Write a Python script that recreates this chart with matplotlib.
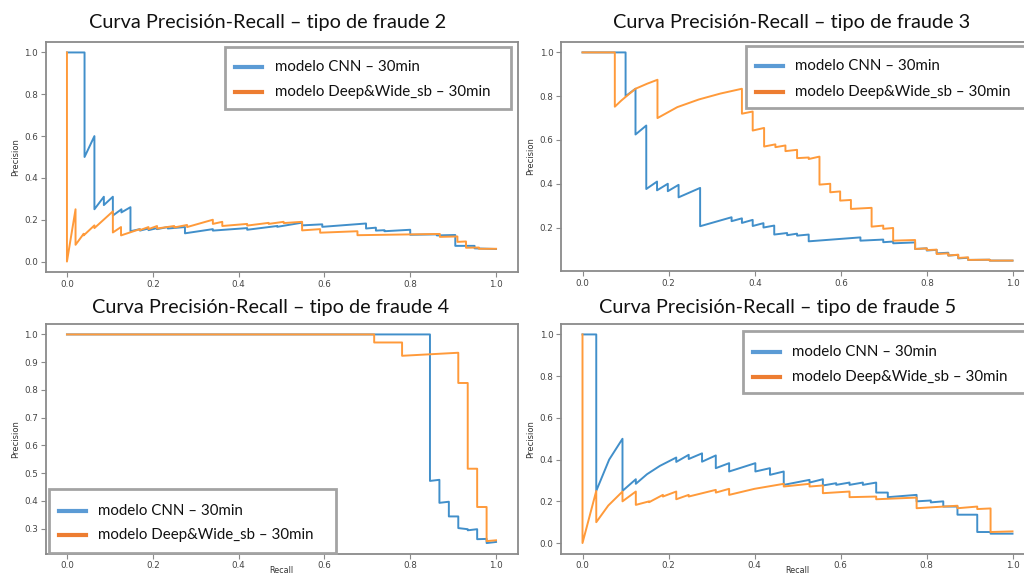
import matplotlib
matplotlib.use("Agg")
import matplotlib.pyplot as plt
from matplotlib.lines import Line2D
from matplotlib.patches import Rectangle

# canvas size in pixels
W, H = 1024, 577

series_names = ["modelo CNN – 30min", "modelo Deep&Wide_sb – 30min"]
fraud_types = [2, 3, 4, 5]

# fraude 2
recall_cnn_2 = [0, 0.041, 0.041, 0.064, 0.064, 0.086, 0.086, 0.107, 0.107, 0.127, 0.127,
                0.148, 0.148, 0.17, 0.17, 0.19, 0.19, 0.21, 0.21, 0.235, 0.235, 0.275,
                0.275, 0.34, 0.34, 0.42, 0.42, 0.49, 0.49, 0.548, 0.548, 0.595, 0.595,
                0.697, 0.697, 0.72, 0.72, 0.74, 0.74, 0.80, 0.80, 0.862, 0.862, 0.905,
                0.905, 0.95, 0.95, 1.0]
prec_cnn_2 = [1.0, 1.0, 0.50, 0.60, 0.25, 0.31, 0.27, 0.31, 0.22, 0.25, 0.235,
              0.26, 0.145, 0.155, 0.148, 0.158, 0.15, 0.16, 0.155, 0.165, 0.158, 0.165,
              0.135, 0.155, 0.148, 0.16, 0.152, 0.17, 0.166, 0.186, 0.173, 0.178, 0.166,
              0.182, 0.158, 0.162, 0.148, 0.15, 0.145, 0.152, 0.128, 0.13, 0.125, 0.127,
              0.075, 0.075, 0.063, 0.06]
recall_dw_2 = [0, 0, 0.02, 0.02, 0.039, 0.039, 0.064, 0.064, 0.107, 0.107, 0.126, 0.126,
               0.148, 0.17, 0.17, 0.19, 0.19, 0.21, 0.21, 0.25, 0.25, 0.28, 0.28, 0.34,
               0.34, 0.362, 0.362, 0.42, 0.42, 0.47, 0.47, 0.505, 0.505, 0.548, 0.548,
               0.59, 0.59, 0.677, 0.677, 0.869, 0.869, 0.91, 0.91, 0.93, 0.93, 0.96,
               0.96, 1.0]
prec_dw_2 = [1.0, 0.0, 0.25, 0.08, 0.133, 0.125, 0.173, 0.16, 0.24, 0.139, 0.165, 0.125,
             0.14, 0.155, 0.15, 0.165, 0.155, 0.17, 0.158, 0.17, 0.163, 0.175, 0.165, 0.2,
             0.18, 0.19, 0.17, 0.18, 0.172, 0.185, 0.18, 0.19, 0.184, 0.19, 0.149,
             0.155, 0.138, 0.145, 0.126, 0.132, 0.118, 0.12, 0.094, 0.096, 0.066, 0.067,
             0.061, 0.061]

# fraude 3
recall_cnn_3 = [0, 0.10, 0.10, 0.123, 0.123, 0.148, 0.148, 0.173, 0.173, 0.198, 0.198,
                0.223, 0.223, 0.273, 0.273, 0.346, 0.346, 0.37, 0.37, 0.395, 0.395, 0.42,
                0.42, 0.445, 0.445, 0.475, 0.475, 0.498, 0.498, 0.525, 0.525, 0.645,
                0.645, 0.698, 0.698, 0.721, 0.721, 0.772, 0.772, 0.799, 0.799, 0.822,
                0.822, 0.849, 0.849, 0.872, 0.872, 0.895, 0.895, 0.945, 0.945, 0.998]
prec_cnn_3 = [1.0, 1.0, 0.80, 0.834, 0.625, 0.666, 0.376, 0.41, 0.37, 0.40, 0.366,
              0.395, 0.338, 0.381, 0.206, 0.247, 0.229, 0.242, 0.221, 0.235, 0.207, 0.22,
              0.20, 0.209, 0.168, 0.175, 0.165, 0.172, 0.163, 0.168, 0.137, 0.155,
              0.14, 0.145, 0.133, 0.136, 0.128, 0.132, 0.102, 0.105, 0.095, 0.098,
              0.082, 0.085, 0.072, 0.075, 0.059, 0.062, 0.052, 0.053, 0.049, 0.049]
recall_dw_3 = [0, 0.075, 0.075, 0.09, 0.105, 0.123, 0.15, 0.174, 0.174, 0.22, 0.27, 0.32,
               0.37, 0.37, 0.395, 0.395, 0.4215, 0.4215, 0.4477, 0.4477, 0.471, 0.471,
               0.498, 0.498, 0.525, 0.525, 0.55, 0.55, 0.575, 0.575, 0.598, 0.598, 0.623,
               0.623, 0.671, 0.671, 0.698, 0.698, 0.721, 0.721, 0.772, 0.772, 0.799,
               0.799, 0.822, 0.822, 0.849, 0.849, 0.872, 0.872, 0.895, 0.895, 0.945,
               0.945, 0.998]
prec_dw_3 = [1.0, 1.0, 0.752, 0.78, 0.805, 0.834, 0.857, 0.875, 0.70, 0.75, 0.785, 0.812,
             0.834, 0.72, 0.73, 0.643, 0.655, 0.57, 0.58, 0.567, 0.575, 0.549,
             0.555, 0.517, 0.52, 0.513, 0.524, 0.396, 0.40, 0.361, 0.365, 0.323, 0.326,
             0.285, 0.29, 0.204, 0.209, 0.194, 0.198, 0.14, 0.143, 0.102, 0.105,
             0.097, 0.099, 0.079, 0.082, 0.072, 0.076, 0.061, 0.064, 0.052, 0.053,
             0.049, 0.049]

# fraude 4
recall_cnn_4 = [0, 0.846, 0.846, 0.868, 0.868, 0.89, 0.89, 0.912, 0.912, 0.934, 0.934,
                0.956, 0.956, 0.978, 0.978, 1.0]
prec_cnn_4 = [1.0, 1.0, 0.472, 0.476, 0.393, 0.397, 0.344, 0.344, 0.302, 0.298, 0.294,
              0.298, 0.262, 0.263, 0.248, 0.252]
recall_dw_4 = [0, 0.716, 0.716, 0.781, 0.781, 0.912, 0.912, 0.934, 0.934, 0.956, 0.956,
               0.978, 0.978, 1.0]
prec_dw_4 = [1.0, 1.0, 0.971, 0.971, 0.923, 0.934, 0.825, 0.825, 0.516, 0.516, 0.378,
             0.378, 0.255, 0.258]

# fraude 5
recall_cnn_5 = [0, 0.032, 0.032, 0.062, 0.093, 0.093, 0.124, 0.124, 0.15, 0.18, 0.218,
                0.218, 0.247, 0.247, 0.278, 0.278, 0.31, 0.31, 0.341, 0.341, 0.402,
                0.402, 0.436, 0.436, 0.468, 0.468, 0.528, 0.528, 0.559, 0.559, 0.59,
                0.59, 0.621, 0.621, 0.652, 0.652, 0.683, 0.683, 0.71, 0.71, 0.777,
                0.777, 0.81, 0.81, 0.839, 0.839, 0.872, 0.872, 0.918, 0.918, 0.949,
                0.949, 1.0]
prec_cnn_5 = [1.0, 1.0, 0.25, 0.40, 0.50, 0.25, 0.306, 0.284, 0.33, 0.37, 0.41,
              0.389, 0.423, 0.403, 0.43, 0.39, 0.42, 0.359, 0.383, 0.343, 0.383,
              0.343, 0.359, 0.327, 0.343, 0.279, 0.303, 0.29, 0.306, 0.276, 0.287,
              0.279, 0.29, 0.279, 0.29, 0.279, 0.29, 0.242, 0.242, 0.22, 0.231,
              0.20, 0.204, 0.195, 0.20, 0.175, 0.175, 0.136, 0.136, 0.053, 0.053,
              0.045, 0.045]
recall_dw_5 = [0, 0, 0.032, 0.032, 0.06, 0.093, 0.093, 0.124, 0.124, 0.155, 0.155, 0.187,
               0.187, 0.218, 0.218, 0.247, 0.247, 0.31, 0.31, 0.341, 0.341, 0.40, 0.468,
               0.468, 0.528, 0.528, 0.559, 0.559, 0.621, 0.621, 0.683, 0.683, 0.777,
               0.777, 0.872, 0.872, 0.918, 0.918, 0.949, 0.949, 1.0]
prec_dw_5 = [1.0, 0.0, 0.25, 0.10, 0.18, 0.247, 0.20, 0.247, 0.183, 0.20, 0.196, 0.231,
             0.223, 0.247, 0.21, 0.231, 0.223, 0.255, 0.242, 0.26, 0.231, 0.26, 0.284,
             0.271, 0.284, 0.271, 0.276, 0.239, 0.247, 0.22, 0.223, 0.21, 0.218,
             0.167, 0.179, 0.167, 0.175, 0.163, 0.166, 0.053, 0.056]

curves = {
    2: ((recall_cnn_2, prec_cnn_2), (recall_dw_2, prec_dw_2)),
    3: ((recall_cnn_3, prec_cnn_3), (recall_dw_3, prec_dw_3)),
    4: ((recall_cnn_4, prec_cnn_4), (recall_dw_4, prec_dw_4)),
    5: ((recall_cnn_5, prec_cnn_5), (recall_dw_5, prec_dw_5)),
}

line_colors = ["#418fca", "#ff9a3a"]
key_colors = ["#5b9bd5", "#ed7d31"]
spine_color = "#8a8a8a"
title_font = "Lato"

# axes boxes in pixels: left, top, right, bottom
axes_px = {
    2: (45.5, 42, 517.5, 272),
    3: (561, 42, 1034, 271),
    4: (45.5, 324, 517.5, 553.5),
    5: (561, 324, 1034, 553.5),
}
# title anchor (center x, baseline y)
title_px = {2: (268, 28), 3: (792, 28), 4: (271, 313), 5: (778, 313)}
# key box (left, top, right, bottom), handle start x, text x, row ys
key_px = {
    2: ((225, 47, 510.5, 109), 235, 275, (67, 92)),
    3: ((746, 46, 1040, 108), 756, 795, (66, 92)),
    4: ((49, 489, 336, 553), 59, 98, (511, 535)),
    5: ((743, 331, 1040, 393), 753, 792, (352, 377)),
}

fig = plt.figure(figsize=(W / 100, H / 100), dpi=100)

for ft in fraud_types:
    l, t, r, b = axes_px[ft]
    ax = fig.add_axes([l / W, 1 - b / H, (r - l) / W, (b - t) / H])
    for (rec, prec), c in zip(curves[ft], line_colors):
        ax.plot(rec, prec, color=c, lw=1.4)
    ax.set_xticks([0, 0.2, 0.4, 0.6, 0.8, 1.0])
    ax.set_ylabel("Precision", fontsize=6, color="#333333", labelpad=3)
    if ft in (4, 5):
        ax.set_xlabel("Recall", fontsize=5.8, color="#333333", labelpad=-2.8)
    ax.tick_params(labelsize=6.3, colors="#444444", length=3.5, width=0.8, pad=2,
                   color=spine_color)
    for s in ax.spines.values():
        s.set_color(spine_color)
        s.set_linewidth(1.3)

# overlay in pixel coordinates for titles and keys
ov = fig.add_axes([0, 0, 1, 1], zorder=10)
ov.set_xlim(0, W)
ov.set_ylim(H, 0)
ov.axis("off")

for ft in fraud_types:
    cx, by = title_px[ft]
    ov.text(cx, by, f"Curva Precisión-Recall – tipo de fraude {ft}", ha="center",
            va="baseline", fontsize=14.3, family=title_font, color="#111111")

    (kl, kt, kr, kb), hx, tx, rows = key_px[ft]
    ov.add_patch(Rectangle((kl, kt), kr - kl, kb - kt, facecolor="white",
                           edgecolor="#a3a3a3", lw=2))
    for name, c, y in zip(series_names, key_colors, rows):
        ov.add_line(Line2D([hx, hx + 27], [y, y], color=c, lw=3))
        ov.text(tx, y, name, va="center", ha="left", fontsize=10.8,
                family=title_font, color="#111111")

fig.savefig("out.png", dpi=100)
